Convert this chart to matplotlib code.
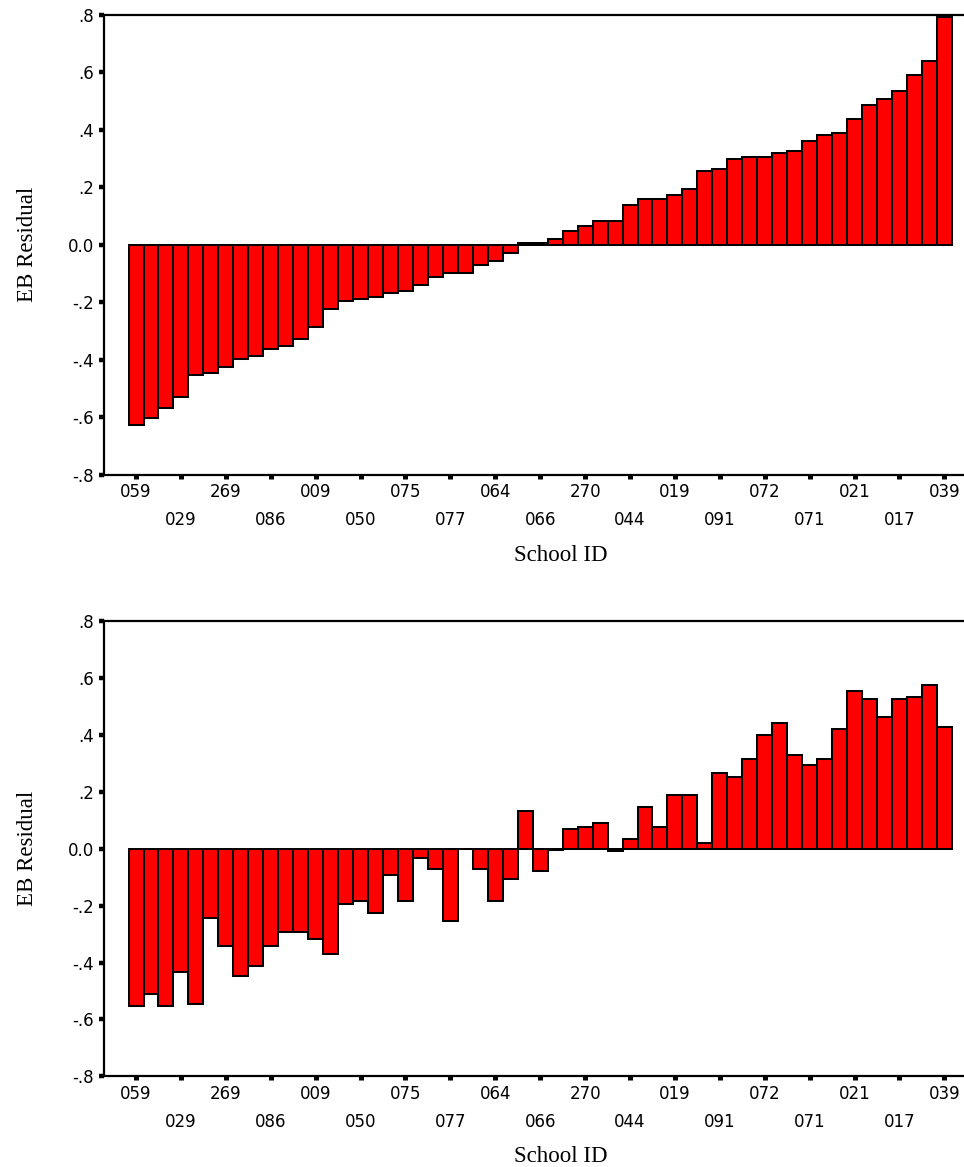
import numpy as np
import matplotlib
matplotlib.use("Agg")
import matplotlib.pyplot as plt

# EB residuals per school, sorted by the top panel's order (55 schools)
resid_top = [-0.627, -0.602, -0.566, -0.530, -0.454, -0.447, -0.425, -0.397, -0.385, -0.362,
             -0.350, -0.328, -0.287, -0.224, -0.195, -0.189, -0.181, -0.167, -0.160, -0.139,
             -0.111, -0.098, -0.098, -0.069, -0.056, -0.028, 0.005, 0.005, 0.020, 0.047,
             0.067, 0.082, 0.082, 0.138, 0.158, 0.158, 0.173, 0.194, 0.256, 0.262,
             0.297, 0.305, 0.305, 0.319, 0.326, 0.361, 0.382, 0.389, 0.438, 0.486,
             0.507, 0.535, 0.590, 0.639, 0.793]
resid_bottom = [-0.553, -0.511, -0.553, -0.434, -0.546, -0.244, -0.342, -0.448, -0.413, -0.342,
                -0.292, -0.292, -0.319, -0.370, -0.195, -0.183, -0.225, -0.091, -0.183, -0.032,
                -0.070, -0.253, 0.0, -0.070, -0.183, -0.105, 0.134, -0.077, -0.005, 0.070,
                0.077, 0.091, -0.007, 0.035, 0.148, 0.077, 0.190, 0.190, 0.020, 0.267,
                0.253, 0.316, 0.401, 0.443, 0.330, 0.295, 0.316, 0.422, 0.555, 0.527,
                0.464, 0.527, 0.534, 0.576, 0.429]
# every third school is labelled
school_ids = ["059", "029", "269", "086", "009", "050", "075", "077", "064", "066",
              "270", "044", "019", "091", "072", "071", "021", "017", "039"]
yticks = [-0.8, -0.6, -0.4, -0.2, 0.0, 0.2, 0.4, 0.6, 0.8]
ytick_labels = ["-.8", "-.6", "-.4", "-.2", "0.0", ".2", ".4", ".6", ".8"]

SANS = "DejaVu Sans"
SERIF = "Liberation Serif"

W, H = 964, 1167
fig = plt.figure(figsize=(W / 100, H / 100), dpi=100, facecolor="white")


def panel(rect, vals):
    ax = fig.add_axes(rect)
    x = np.arange(len(vals))
    ax.bar(x, vals, width=1.0, color="#FF0000", edgecolor="black", linewidth=1.45)
    ax.set_xlim(-2.12, 55.31)
    ax.set_ylim(-0.8, 0.8)

    for s in ["left", "bottom", "top"]:
        ax.spines[s].set_linewidth(1.6)
    ax.spines["right"].set_visible(False)

    ax.set_yticks(yticks, ytick_labels, family=SANS, fontsize=12)
    pos = np.arange(0, len(vals), 3)
    ax.set_xticks(pos[0::2], school_ids[0::2], family=SANS, fontsize=12)
    ax.set_xticks(pos[1::2], school_ids[1::2], minor=True, family=SANS, fontsize=12)
    ax.tick_params(axis="y", length=3.6, width=3.2, pad=4)
    ax.tick_params(axis="x", which="both", length=3.0, width=3.6)
    ax.tick_params(axis="x", which="major", pad=3.0)
    ax.tick_params(axis="x", which="minor", pad=23.0)

    ax.set_ylabel("EB Residual", family=SERIF, fontsize=16.5)
    ax.yaxis.set_label_coords(-0.077, 0.5)
    ax.set_xlabel("School ID", family=SERIF, fontsize=16.5)
    ax.xaxis.set_label_coords(0.531, -0.152)
    return ax


panel([104.3 / W, 1 - 475 / H, 1 - 104.3 / W, 460.3 / H], resid_top)
panel([104.3 / W, 1 - 1076.4 / H, 1 - 104.3 / W, 455.4 / H], resid_bottom)

fig.savefig("out.png", dpi=100, facecolor="white")
